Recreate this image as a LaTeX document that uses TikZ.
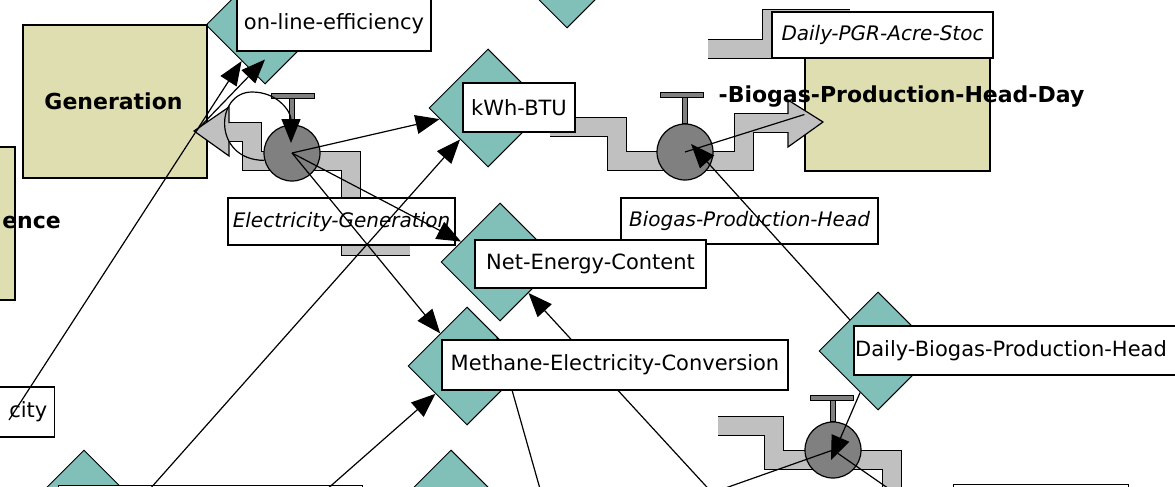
\documentclass[tikz,border=0pt]{standalone}
\usepackage{fontspec}
\setmainfont{DejaVu Sans}[ItalicFont={DejaVu Sans Oblique},BoldFont={DejaVu Sans Bold}]
\usepackage{xcolor}
\usepackage{tikz}
\usetikzlibrary{shapes.geometric,arrows.meta,calc}
\definecolor{stockfill}{RGB}{222,222,176}
\definecolor{auxfill}{RGB}{128,192,184}
\definecolor{pipefill}{RGB}{192,192,192}
\definecolor{valvefill}{RGB}{128,128,128}

\begin{document}
\begin{tikzpicture}[x=1pt, y=-1pt,
        stock/.style = {draw, fill=stockfill, line width=1.2pt, inner sep=0pt},
        aux/.style = {diamond, draw, fill=auxfill, line width=1pt, inner sep=0pt, minimum width=118pt, minimum height=118pt},
        tag/.style = {draw, fill=white, line width=1.2pt, inner sep=0pt, font=\fontsize{21}{25}\selectfont},
        flowtag/.style = {tag, font=\fontsize{20}{24}\selectfont\itshape},
        stockname/.style = {inner sep=0pt, font=\fontsize{22}{26}\selectfont\bfseries},
        valve/.style = {circle, draw, fill=valvefill, line width=1.2pt, inner sep=0pt, minimum size=56pt},
        handle/.style = {draw, fill=valvefill, line width=1pt},
        pipe/.style = {draw=black, line width=1.2pt, double=pipefill, double distance=18pt},
        pipehead/.style = {draw, line width=1.2pt},
        conn/.style = {line width=1.2pt, -{Triangle[length=24pt,width=19pt]}},
        link/.style = {line width=1.2pt}
    ]
        \useasboundingbox (0,0) rectangle (1175,487);
        \clip (0,0) rectangle (1175,487);
        \fill[white] (0,0) rectangle (1175,487);

        % auxiliaries
        \node[aux] (online) at (265,25) {};
        \node[aux] (topaux) at (567,-31) {};
        \node[aux] (kwh) at (488,108) {};
        \node[aux] (ne) at (500,262) {};
        \node[aux] (mec) at (467,366) {};
        \node[aux] (dbph) at (878,351) {};
        \node[aux] (blaux) at (84,509) {};
        \node[aux] (bmaux) at (451,509) {};

        % stocks
        \node[stock, minimum width=184pt, minimum height=153pt] (gen) at (115,101.5) {};
        \node[stock, minimum width=115pt, minimum height=153pt] (leftstock) at (-42.5,223.5) {};
        \node[stock, minimum width=185pt, minimum height=113pt] (bio) at (897.5,114.5) {};

        % flows
        \draw[pipe] (410,246) -- (351,246) -- (351,161) -- (252,161) -- (252,132) -- (229,132);
        \fill[pipefill] (229,107) -- (194,131) -- (229,156) -- cycle;
        \draw[pipehead] (229,123) -- (229,107) -- (194,131) -- (229,156) -- (229,141);
        \draw[pipe] (550,127) -- (617,127) -- (617,161) -- (744,161) -- (744,123) -- (788,123);
        \fill[pipefill] (788,100) -- (823,122) -- (788,147) -- cycle;
        \draw[pipehead] (788,114) -- (788,100) -- (823,122) -- (788,147) -- (788,132);
        \draw[pipe] (718,426) -- (774,426) -- (774,460) -- (892,460) -- (892,500);
        \draw[pipe] (708,49) -- (772,49) -- (772,19) -- (850,19);

        % valves
        \node[valve] (v1) at (292,153) {};
        \node[valve] (v2) at (685,152) {};
        \node[valve] (v3) at (833,450) {};
        \draw[handle] ($(v1.north)+(-2.5,0)$) rectangle ($(v1.north)+(2.5,-26)$);
        \draw[handle] ($(v1.north)+(-21,-26)$) rectangle ($(v1.north)+(22,-31)$);
        \draw[handle] ($(v2.north)+(-2.5,0)$) rectangle ($(v2.north)+(2.5,-26)$);
        \draw[handle] ($(v2.north)+(-25,-26)$) rectangle ($(v2.north)+(18,-31)$);
        \draw[handle] ($(v3.north)+(-2.5,0)$) rectangle ($(v3.north)+(2.5,-21)$);
        \draw[handle] ($(v3.north)+(-23,-21)$) rectangle ($(v3.north)+(20,-26)$);

        % free ends of connectors
        \coordinate (cityv) at (9,420);
        \coordinate (genv) at (195,132);
        \coordinate (src4) at (118,525);
        \coordinate (src7) at (300,513);
        \coordinate (src8) at (546,510);
        \coordinate (src9) at (727,509);
        \coordinate (src14) at (700,497);
        \coordinate (src15) at (905,500);

        \draw[conn] (src8) -- (mec.north east);
        \draw[conn] (src9) -- (ne);

        % names
        \node[tag, minimum width=194pt, minimum height=54pt] (onlinetag) at (334,24) {on-line-efficiency};
        \node[tag, minimum width=112pt, minimum height=49pt] (kwhtag) at (519,107.5) {kWh-BTU};
        \node[flowtag, minimum width=227pt, minimum height=47pt] (v1tag) at (341.5,221.5) {Electricity-Generation};
        \node[flowtag, minimum width=257pt, minimum height=46pt] (v2tag) at (749.5,221) {Biogas-Production-Head};
        \node[flowtag, minimum width=221pt, minimum height=46pt] (pgrtag) at (882.5,35) {Daily-PGR-Acre-Stoc};
        \node[tag, minimum width=231pt, minimum height=48pt] (netag) at (590.5,264) {Net-Energy-Content};
        \node[tag, minimum width=346pt, minimum height=50pt] (mectag) at (615,365) {Methane-Electricity-Conversion};
        \node[tag, minimum width=324pt, minimum height=49pt] (dbphtag) at (1016,350.5) {\hspace*{-10pt}Daily-Biogas-Production-Head};
        \node[tag, anchor=east, minimum height=50pt, text width=125pt, align=right, inner xsep=7pt] (citytag) at (55,412) {city};
        \node[tag, anchor=north west, minimum width=304pt, minimum height=40pt] (bltag) at (58,485) {};
        \node[tag, anchor=north west, minimum width=175pt, minimum height=40pt] (brtag) at (953,484) {};

        % connectors
        \draw[conn] (cityv) -- (online);
        \draw[conn] (genv) -- ($(online.south)+(0,-25)$);
        \draw[conn] (v1.195) .. controls (212,160) and (215,92) .. (252,92) .. controls (278,92) and (291,112) .. ($(v1.center)+(-1,-10)$);
        \draw[conn] (v1.center) -- (kwh);
        \draw[conn] (src4) -- (kwh);
        \draw[conn] (v1.center) -- (ne);
        \draw[conn] (v1.center) -- (mec);
        \draw[conn] (src7) -- (mec);
        \draw[conn] (dbph) -- ($(v2.center)+(6,-8)$);
        \draw[link] (bio.west) -- (v2.center);
        \draw[conn] (dbph) -- ($(v3.center)+(-2,10)$);
        \draw[link] (v3.center) -- (src14);
        \draw[link] (v3.center) -- (src15);

        % stock names
        \node[stockname] (gentext) at (113.5,101) {Generation};
        \node[stockname, anchor=east] (lefttext) at (61,222) {ence};
        \node[stockname] (biotext) at (901.5,97) {-Biogas-Production-Head-Day};
    \end{tikzpicture}
\end{document}
